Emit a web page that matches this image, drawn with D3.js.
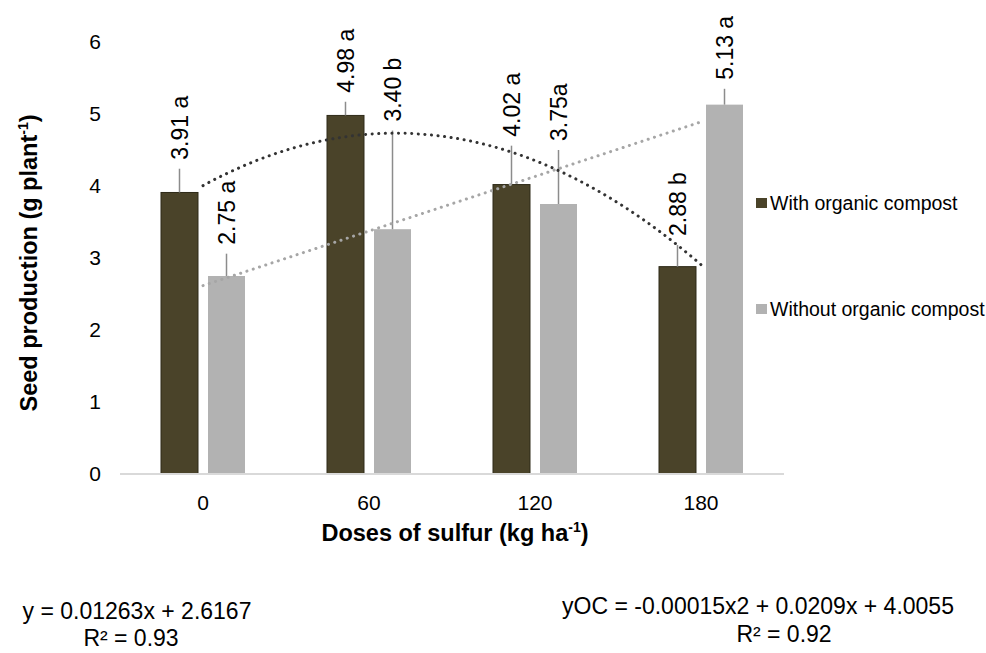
<!DOCTYPE html>
<html>
<head>
<meta charset="utf-8">
<script src="https://cdn.jsdelivr.net/npm/d3@7"></script>
<style>
  body { margin: 0; background: #fff; }
  text { font-family: "Liberation Sans", Arial, sans-serif; fill: #000; }
</style>
</head>
<body>
<div id="chart"></div>
<script>
// data
const doses = ["0", "60", "120", "180"];
const seriesNames = ["With organic compost", "Without organic compost"];
const withCompost = [3.91, 4.98, 4.02, 2.88];
const withoutCompost = [2.75, 3.40, 3.75, 5.13];
const errWith = [0.33, 0.19, 0.54, 0.30];
const errWithout = [0.31, 1.37, 0.75, 0.22];
const labelsWith = ["3.91 a", "4.98 a", "4.02 a", "2.88 b"];
const labelsWithout = ["2.75 a", "3.40 b", "3.75a", "5.13 a"];
const yTicks = [0, 1, 2, 3, 4, 5, 6];
// trend line coefficients as printed (c0 + c1*x + c2*x^2)
const linCoef = [2.6167, 0.01263, 0];
const quadCoef = [4.0055, 0.0209, -0.00015];

const W = 986, H = 653;
const colors = ["#4a4329", "#b2b2b2"];

const svg = d3.select("#chart").append("svg")
    .attr("width", W)
    .attr("height", H);

const x0 = d3.scaleBand().domain(doses).range([120, 784]).paddingInner(0.494).paddingOuter(0.247);
const x1 = d3.scaleBand().domain([0, 1]).range([0, x0.bandwidth()]).paddingInner(0.213);
const y = d3.scaleLinear().domain([0, 6]).range([474, 42]);

const rows = doses.map((d, i) => [
    { dose: d, s: 0, v: withCompost[i], e: errWith[i], lab: labelsWith[i] },
    { dose: d, s: 1, v: withoutCompost[i], e: errWithout[i], lab: labelsWithout[i] }
]).flat();

// y tick labels (no axis line)
svg.append("g").selectAll("text")
    .data(yTicks)
    .enter().append("text")
    .attr("x", 101)
    .attr("y", d => y(d))
    .attr("dy", "0.35em")
    .attr("text-anchor", "end")
    .style("font-size", "21px")
    .text(d => d);

// bars
svg.append("g").selectAll("rect")
    .data(rows)
    .enter().append("rect")
    .attr("x", d => x0(d.dose) + x1(d.s))
    .attr("y", d => y(d.v))
    .attr("width", x1.bandwidth())
    .attr("height", d => y(0) - y(d.v))
    .attr("fill", d => colors[d.s])
    .attr("stroke", d => d.s === 0 ? "#2e2a18" : "none")
    .attr("stroke-width", 1);

// baseline
svg.append("line")
    .attr("x1", 120).attr("x2", 784)
    .attr("y1", y(0)).attr("y2", y(0))
    .attr("stroke", "#d9d9d9")
    .attr("stroke-width", 2);

// error bars (upper only)
svg.append("g").selectAll("line")
    .data(rows)
    .enter().append("line")
    .attr("x1", d => x0(d.dose) + x1(d.s) + x1.bandwidth() / 2)
    .attr("x2", d => x0(d.dose) + x1(d.s) + x1.bandwidth() / 2)
    .attr("y1", d => y(d.v))
    .attr("y2", d => y(d.v + d.e))
    .attr("stroke", "#8c8c8c")
    .attr("stroke-width", 1.5);

// trend lines
const trend = (coef) => d3.range(0, 181, 3).map(v => [v, coef[0] + coef[1] * v + coef[2] * v * v]);
const xDose = d3.scaleLinear().domain([0, 180])
    .range([x0("0") + x0.bandwidth() / 2, x0("180") + x0.bandwidth() / 2]);
const line = d3.line().x(d => xDose(d[0])).y(d => y(d[1])).curve(d3.curveMonotoneX);

svg.append("path")
    .datum(trend(linCoef))
    .attr("fill", "none")
    .attr("stroke", "#a6a6a6")
    .attr("stroke-width", 3)
    .attr("stroke-linecap", "round")
    .attr("stroke-dasharray", "0.1 6.5")
    .attr("d", line);

svg.append("path")
    .datum(trend(quadCoef))
    .attr("fill", "none")
    .attr("stroke", "#333333")
    .attr("stroke-width", 3)
    .attr("stroke-linecap", "round")
    .attr("stroke-dasharray", "0.1 6.5")
    .attr("d", line);

// value labels, rotated
svg.append("g").selectAll("text")
    .data(rows)
    .enter().append("text")
    .attr("transform", d => {
        const cx = x0(d.dose) + x1(d.s) + x1.bandwidth() / 2;
        const cy = y(d.v + d.e) - 9;
        return `translate(${cx},${cy}) rotate(-90)`;
    })
    .attr("dy", "0.35em")
    .attr("text-anchor", "start")
    .style("font-size", "23px")
    .text(d => d.lab);

// x tick labels
svg.append("g").selectAll("text")
    .data(doses)
    .enter().append("text")
    .attr("x", d => x0(d) + x0.bandwidth() / 2)
    .attr("y", 503)
    .attr("dy", "0.35em")
    .attr("text-anchor", "middle")
    .style("font-size", "21px")
    .text(d => d);

// axis titles
const xt = svg.append("text")
    .attr("x", 455)
    .attr("y", 541)
    .attr("text-anchor", "middle")
    .style("font-size", "23.5px")
    .style("font-weight", "bold");
xt.append("tspan").text("Doses of sulfur (kg ha");
xt.append("tspan").attr("dy", -9).style("font-size", "14px").text("-1");
xt.append("tspan").attr("dy", 9).text(")");

const yt = svg.append("text")
    .attr("transform", "translate(37,263) rotate(-90)")
    .attr("text-anchor", "middle")
    .style("font-size", "23.5px")
    .style("font-weight", "bold");
yt.append("tspan").text("Seed production (g plant");
yt.append("tspan").attr("dy", -9).style("font-size", "14px").text("-1");
yt.append("tspan").attr("dy", 9).text(")");

// legend
const leg = svg.append("g").selectAll("g")
    .data(seriesNames)
    .enter().append("g")
    .attr("transform", (d, i) => `translate(756,${i === 0 ? 203 : 309})`);
leg.append("rect")
    .attr("x", 0).attr("y", -5)
    .attr("width", 11).attr("height", 10)
    .attr("fill", (d, i) => colors[i]);
leg.append("text")
    .attr("x", 14)
    .attr("dy", "0.35em")
    .style("font-size", "19.5px")
    .text(d => d);

// regression equations
const eq = [
    { t: "y = 0.01263x + 2.6167", x: 137, y: 611 },
    { t: "R² = 0.93", x: 131, y: 638 },
    { t: "yOC = -0.00015x2 + 0.0209x + 4.0055", x: 758, y: 606 },
    { t: "R² = 0.92", x: 784, y: 634 }
];
svg.append("g").selectAll("text")
    .data(eq)
    .enter().append("text")
    .attr("x", d => d.x)
    .attr("y", d => d.y)
    .attr("dy", "0.35em")
    .attr("text-anchor", "middle")
    .style("font-size", "23px")
    .text(d => d.t);
</script>
</body>
</html>
